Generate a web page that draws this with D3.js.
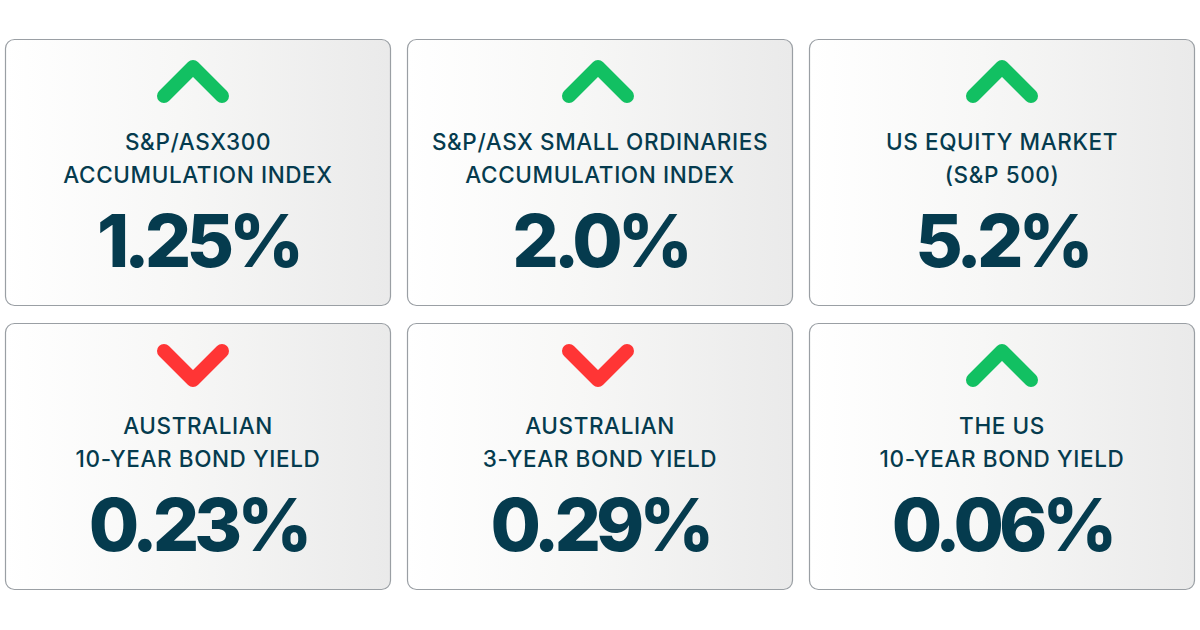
<!DOCTYPE html>
<html>
<head>
<meta charset="utf-8">
<script src="https://cdn.jsdelivr.net/npm/d3@7"></script>
<style>
  body { margin: 0; background: #ffffff; }
  svg { display: block; }
</style>
</head>
<body>
<div id="chart"></div>
<script>
// Data
const titleLine1 = ['S&P/ASX300', 'S&P/ASX SMALL ORDINARIES', 'US EQUITY MARKET', 'AUSTRALIAN', 'AUSTRALIAN', 'THE US']
const titleLine2 = ['ACCUMULATION INDEX', 'ACCUMULATION INDEX', '(S&P 500)', '10-YEAR BOND YIELD', '3-YEAR BOND YIELD', '10-YEAR BOND YIELD']
const values = ['1.25%', '2.0%', '5.2%', '0.23%', '0.29%', '0.06%']
const directions = ['up', 'up', 'up', 'down', 'down', 'up']

function draw() {
  const dimensions = {
    width: 1200,
    height: 630,
    left: 5,
    top: 39,
    cardWidth: 386,
    cardHeight: 267,
    gapX: 16,
    gapY: 17
  }

  const dataset = values.map((v, i) => ({
    line1: titleLine1[i],
    line2: titleLine2[i],
    value: v,
    dir: directions[i],
    col: i % 3,
    row: Math.floor(i / 3)
  }))

  const svg = d3.select('#chart')
    .append('svg')
    .attr('width', dimensions.width)
    .attr('height', dimensions.height)

  const defs = svg.append('defs')
  const grad = defs.append('linearGradient')
    .attr('id', 'cardFill')
    .attr('x1', '0%').attr('y1', '0%')
    .attr('x2', '100%').attr('y2', '0%')
  grad.append('stop').attr('offset', '0%').attr('stop-color', '#ffffff')
  grad.append('stop').attr('offset', '45%').attr('stop-color', '#f7f7f6')
  grad.append('stop').attr('offset', '100%').attr('stop-color', '#eaeaea')

  // Scales
  const xScale = d3.scaleBand()
    .domain([0, 1, 2])
    .range([dimensions.left, dimensions.left + dimensions.cardWidth * 3 + dimensions.gapX * 2])
    .paddingInner(dimensions.gapX / (dimensions.cardWidth + dimensions.gapX))

  const yScale = d3.scaleBand()
    .domain([0, 1])
    .range([dimensions.top, dimensions.top + dimensions.cardHeight * 2 + dimensions.gapY])
    .paddingInner(dimensions.gapY / (dimensions.cardHeight + dimensions.gapY))

  const colorScale = d3.scaleOrdinal()
    .domain(['up', 'down'])
    .range(['#12c062', '#ff3535'])

  const cards = svg.selectAll('g.card')
    .data(dataset)
    .join('g')
    .attr('class', 'card')
    .attr('transform', d => `translate(${xScale(d.col)}, ${yScale(d.row)})`)

  const w = xScale.bandwidth()
  const cx = w / 2

  cards.append('rect')
    .attr('x', 0.5)
    .attr('y', 0.5)
    .attr('width', w - 1)
    .attr('height', yScale.bandwidth() - 1)
    .attr('rx', 9)
    .attr('fill', 'url(#cardFill)')
    .attr('stroke', '#9a9fa4')
    .attr('stroke-width', 1.2)

  // chevrons
  const arm = 29
  cards.append('path')
    .attr('d', d => {
      const ax = cx - (d.col === 0 ? 5 : d.col === 1 ? 2 : 0)
      return d.dir === 'up'
        ? `M${ax - arm},${28 + arm} L${ax},28 L${ax + arm},${28 + arm}`
        : `M${ax - arm},28 L${ax},${28 + arm} L${ax + arm},28`
    })
    .attr('fill', 'none')
    .attr('stroke', d => colorScale(d.dir))
    .attr('stroke-width', 14)
    .attr('stroke-linecap', 'round')
    .attr('stroke-linejoin', 'round')

  const textColor = '#053b4e'

  cards.append('text')
    .attr('x', cx)
    .attr('y', 111)
    .attr('text-anchor', 'middle')
    .attr('font-family', 'Inter, sans-serif')
    .attr('font-weight', 500)
    .attr('font-size', 22.5)
    .attr('letter-spacing', 0.6)
    .attr('fill', textColor)
    .text(d => d.line1)

  cards.append('text')
    .attr('x', cx)
    .attr('y', 144)
    .attr('text-anchor', 'middle')
    .attr('font-family', 'Inter, sans-serif')
    .attr('font-weight', 500)
    .attr('font-size', 22.5)
    .attr('letter-spacing', 0.6)
    .attr('fill', textColor)
    .text(d => d.line2)

  cards.append('text')
    .attr('x', cx)
    .attr('y', 228)
    .attr('text-anchor', 'middle')
    .attr('font-family', 'Inter, sans-serif')
    .attr('font-weight', 800)
    .attr('font-size', 73)
    .attr('letter-spacing', -5)
    .attr('fill', textColor)
    .text(d => d.value)
}

draw()
</script>
</body>
</html>
